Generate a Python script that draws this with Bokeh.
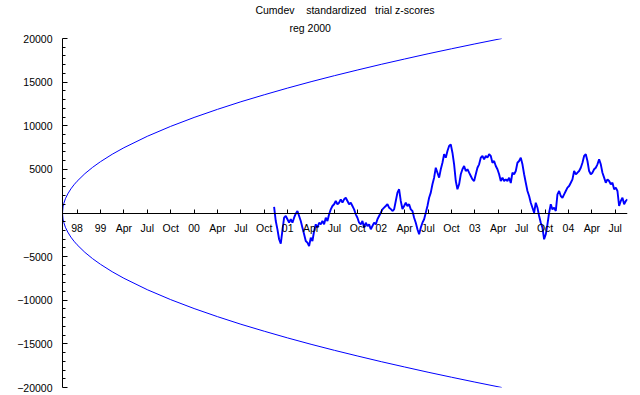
from bokeh.plotting import figure
from bokeh.models import Range1d, FixedTicker, Title
from bokeh.embed import file_html
from bokeh.resources import INLINE

# x unit: months counted from Jan 1998 (0 = Jan 1998)
tick_months = [9, 12, 15, 18, 21, 24, 27, 30, 33, 36, 39, 42, 45, 48, 51, 54,
               57, 60, 63, 66, 69, 72, 75, 78]
tick_labels = ["98", "99", "Apr", "Jul", "Oct", "00", "Apr", "Jul", "Oct", "01",
               "Apr", "Jul", "Oct", "02", "Apr", "Jul", "Oct", "03", "Apr", "Jul",
               "Oct", "04", "Apr", "Jul"]

y_ticks = [-20000, -15000, -10000, -5000, 5000, 10000, 15000, 20000]
y_minor = [v for v in range(-19000, 20000, 1000) if v % 5000 != 0]

# envelope
env_months = [7.13, 7.2, 7.3, 7.5, 7.8, 8.2, 8.6, 9, 10, 11, 12, 13.5, 15, 18, 21,
              24, 27, 30, 33, 36, 39, 42, 45, 48, 51, 54, 57, 60, 63.45]
env_upper = [0, 700, 1100, 1630, 2180, 2760, 3230, 3640, 4510, 5240, 5880, 6730,
             7480, 8790, 9930, 10950, 11880, 12750, 13550, 14320, 15050, 15740,
             16400, 17040, 17650, 18250, 18820, 19380, 20000]
env_lower = [0, -700, -1100, -1630, -2180, -2760, -3230, -3640, -4510, -5240, -5880,
             -6730, -7480, -8790, -9930, -10950, -11880, -12750, -13550, -14320,
             -15050, -15740, -16400, -17040, -17650, -18250, -18820, -19380, -20000]

# cumulative deviation, regularly sampled
walk_start = 34.26
walk_step = 0.2137
walk = [690, -920, -1870, -3010, -3520, -1980, -540, -340, -720, -1110,
        -720, -1110, -540, -80, 230, -340, -920, -1680, -2440, -3210,
        -3400, -3780, -2830, -3210, -2060, -1300, -1680, -1110, -1300, -920,
        -1300, -540, -920, -150, 420, 800, 1000, 1380, 1000, 1180,
        1570, 1180, 1570, 1750, 1380, 1000, 1180, 800, 420, -150,
        -540, -1110, -1300, -920, -1680, -1110, -1490, -1300, -1870, -1490,
        -1110, -1300, -720, -340, 30, 420, 610, 800, 1000, 610,
        460, 230, 420, 1380, 2330, 2720, 1380, 460, 800, 1180,
        800, 1000, 420, 230, -540, -1110, -1870, -2440, -1680, -1110,
        -720, 30, 800, 1750, 2330, 3290, 4050, 5190, 4620, 4050,
        5010, 5760, 6730, 6340, 7110, 7680, 7870, 6910, 5580, 3670,
        2720, 3290, 4440, 5010, 5390, 4810, 5010, 4620, 4240, 3860,
        3670, 4440, 5190, 5580, 6340, 6530, 6150, 6530, 6340, 6730,
        6530, 5760, 5960, 5390, 5010, 4440, 3670, 4050, 3670, 3860,
        3670, 4050, 3440, 4620, 4440, 4810, 5760, 5960, 6340, 5580,
        4440, 3470, 2520, 1950, 1180, 610, 30, 1180, 610, -340,
        -1110, -1680, -3010, -2440, -1300, 30, 1000, 420, 610, 230,
        2140, 2520, 1950, 1750, 2140, 2520, 2900, 3090, 3470, 3860,
        4810, 4440, 4620, 4810, 5190, 5760, 6530, 6730, 5960, 4810,
        4440, 4620, 5010, 5190, 5580, 6150, 5580, 4620, 4050, 3470,
        3860, 3670, 3290, 3470, 2720, 2900, 2520, 800, 1380, 1750,
        1000, 1380, 1570]
walk_months = [walk_start + i * walk_step for i in range(len(walk))]

NB = "\u00a0"
title_1 = "Cumdev" + NB * 3 + " standardized" + NB * 2 + " trial z-scores"
title_2 = "reg 2000"

FONT = "Liberation Sans"
FS = "10.5px"
BLUE = "#0000ff"

p = figure(width=640, height=395, output_backend="svg", toolbar_location=None,
           x_range=Range1d(7.13, 79.57), y_range=Range1d(-20000, 20000),
           min_border_left=62, min_border_right=13, min_border_top=38,
           min_border_bottom=8)
p.title.visible = False
p.outline_line_color = None
p.grid.visible = False
p.background_fill_color = "white"
p.border_fill_color = "white"

p.line(env_months, env_upper, line_color=BLUE, line_width=1)
p.line(env_months, env_lower, line_color=BLUE, line_width=1)
p.line(walk_months, walk, line_color=BLUE, line_width=1.9)

xa = p.xaxis[0]
xa.fixed_location = 0
xa.ticker = FixedTicker(ticks=tick_months, minor_ticks=[])
xa.major_label_overrides = {m: lab for m, lab in zip(tick_months, tick_labels)}
xa.axis_line_color = "black"
xa.major_tick_in = 4
xa.major_tick_out = 0
xa.minor_tick_in = 0
xa.minor_tick_out = 0
xa.major_tick_line_color = "black"
xa.major_label_standoff = 9
xa.major_label_text_font = FONT
xa.major_label_text_font_size = FS
xa.major_label_text_color = "black"

ya = p.yaxis[0]
ya.ticker = FixedTicker(ticks=y_ticks, minor_ticks=y_minor)
ya.axis_line_color = "black"
ya.major_tick_in = 5
ya.major_tick_out = 0
ya.minor_tick_in = 3
ya.minor_tick_out = 0
ya.major_tick_line_color = "black"
ya.minor_tick_line_color = "black"
ya.major_label_standoff = 10
ya.major_label_text_font = FONT
ya.major_label_text_font_size = FS
ya.major_label_text_color = "black"

# first added 'above' sits nearest to the frame
p.add_layout(Title(text=title_2, align="left", offset=227, standoff=9,
                   text_font=FONT, text_font_size=FS, text_font_style="normal",
                   text_color="black"), "above")
p.add_layout(Title(text=title_1, align="center", standoff=0,
                   text_font=FONT, text_font_size=FS, text_font_style="normal",
                   text_color="black"), "above")

open("out.html", "w").write(file_html(p, INLINE))
